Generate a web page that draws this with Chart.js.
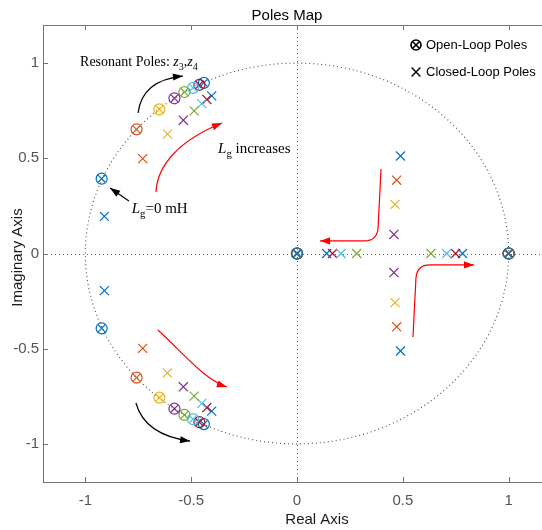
<!DOCTYPE html>
<html><head><meta charset="utf-8">
<script src="https://cdn.jsdelivr.net/npm/chart.js@4.4.0/dist/chart.umd.min.js"></script>
<style>
html,body{margin:0;padding:0;background:#fff;overflow:hidden;}
#wrap{width:542px;height:530px;overflow:hidden;position:relative;}
canvas{display:block;}
</style></head><body>
<div id="wrap"><canvas id="c" width="560" height="530"></canvas></div>
<script>
// ---- data ----
const seriesLabels = ['Lg = 0 mH','Lg #2','Lg #3','Lg #4','Lg #5','Lg #6','Lg #7','Lg #8'];
// open-loop resonant poles z3,z4 (upper half; lower half is conjugate)
const openRe = [-0.923, -0.758, -0.650, -0.579, -0.532, -0.491, -0.461, -0.440];
const openIm = [ 0.393,  0.652,  0.757,  0.815,  0.848,  0.870,  0.886,  0.896];
// open-loop real poles shared by all series
const openRealPoles = [0, 1];
// closed-loop resonant poles (upper half; lower half conjugate)
const closedResRe = [-0.910, -0.729, -0.612, -0.537, -0.486, -0.450, -0.426, -0.403];
const closedResIm = [ 0.195,  0.498,  0.627,  0.700,  0.749,  0.787,  0.809,  0.828];
// closed-loop low-frequency poles (pair A and pair B)
const closedARe = [0.489, 0.471, 0.463, 0.458, 0.282, 0.208, 0.168, 0.140];
const closedAIm = [0.512, 0.385, 0.258, 0.100, 0, 0, 0, 0];
const closedBRe = [0.489, 0.471, 0.463, 0.458, 0.633, 0.707, 0.749, 0.782];
const closedBIm = [-0.512, -0.385, -0.258, -0.100, 0, 0, 0, 0];
// axis ticks
const xTicks = [-1, -0.5, 0, 0.5, 1];
const xTickLabels = ['-1', '-0.5', '0', '0.5', '1'];
const yTicks = [-1, -0.5, 0, 0.5, 1];
const yTickLabels = ['-1', '-0.5', '0', '0.5', '1'];

// ---- styles ----
const seriesColors = ['#0072BD','#D95319','#EDB120','#7E2F8E','#77AC30','#4DBEEE','#A2142F','#0072BD'];
const AXIS = '#737373', TICKTXT = '#555555';

const datasets = [];
seriesLabels.forEach((lab, i) => {
  const col = seriesColors[i];
  const openPts = [{x: openRe[i], y: openIm[i]}, {x: openRe[i], y: -openIm[i]}]
    .concat(openRealPoles.map(r => ({x: r, y: 0})));
  const closedPts = [
    {x: closedResRe[i], y: closedResIm[i]}, {x: closedResRe[i], y: -closedResIm[i]},
    {x: closedARe[i], y: closedAIm[i]}, {x: closedBRe[i], y: closedBIm[i]}
  ];
  datasets.push({label: lab + ' open', data: openPts, pointStyle: 'circle', pointRadius: 5.5,
    borderColor: col, backgroundColor: 'rgba(0,0,0,0)', pointBorderWidth: 1.2, showLine: false});
  datasets.push({label: lab + ' open x', data: openPts, pointStyle: 'crossRot', pointRadius: 5,
    borderColor: col, backgroundColor: col, pointBorderWidth: 1.2, showLine: false});
  datasets.push({label: lab + ' closed', data: closedPts, pointStyle: 'crossRot', pointRadius: 6.4,
    borderColor: col, backgroundColor: col, pointBorderWidth: 1.2, showLine: false});
});

// annotation paths in data coordinates
const annotPaths = [
  {color: '#000', cmds: [['M',-0.751,0.738],['Q',-0.732,0.911,-0.539,0.932]]},
  {color: '#ff0000', cmds: [['M',-0.666,0.323],['C',-0.661,0.465,-0.553,0.596,-0.354,0.685]]},
  {color: '#ff0000', cmds: [['M',-0.657,-0.402],['C',-0.529,-0.533,-0.435,-0.664,-0.331,-0.701]]},
  {color: '#000', cmds: [['M',-0.761,-0.785],['C',-0.732,-0.901,-0.647,-0.964,-0.505,-0.985]]},
  {color: '#000', cmds: [['M',-0.794,0.276],['L',-0.883,0.344]]},
  {color: '#ff0000', cmds: [['M',0.397,0.444],['L',0.383,0.134],['Q',0.378,0.066,0.317,0.066],['L',0.109,0.066]]},
  {color: '#ff0000', cmds: [['M',0.548,-0.439],['L',0.562,-0.129],['Q',0.567,-0.060,0.628,-0.060],['L',0.836,-0.060]]}
];
const annotTexts = [
  {x: -1.025, y: 0.985, size: 14, parts: [{t:'Resonant Poles: '},{t:'z',it:1},{t:'3',sub:1},{t:','},{t:'z',it:1},{t:'4',sub:1}]},
  {x: -0.373, y: 0.528, size: 15, parts: [{t:'L',it:1},{t:'g',sub:1},{t:' increases'}]},
  {x: -0.781, y: 0.215, size: 15, parts: [{t:'L',it:1},{t:'g',sub:1},{t:'=0 mH'}]}
];

function richText(ctx, x, y, parts, size) {
  let cx = x;
  ctx.textAlign = 'left'; ctx.textBaseline = 'alphabetic'; ctx.fillStyle = '#000';
  parts.forEach(p => {
    const s = p.sub ? size * 0.72 : size;
    ctx.font = (p.it ? 'italic ' : '') + s + 'px "Liberation Serif"';
    ctx.fillText(p.t, cx, y + (p.sub ? size * 0.28 : 0));
    cx += ctx.measureText(p.t).width;
  });
}

const decor = {
  id: 'decor',
  beforeDatasetsDraw(chart) {
    const {ctx, chartArea: a, scales: {x, y}} = chart;
    ctx.save();
    ctx.beginPath(); ctx.rect(a.left, a.top, a.right - a.left, a.bottom - a.top); ctx.clip();
    ctx.strokeStyle = '#666666'; ctx.lineWidth = 1; ctx.setLineDash([1, 3]);
    const x0 = x.getPixelForValue(0), y0 = y.getPixelForValue(0);
    ctx.beginPath(); ctx.moveTo(a.left, Math.round(y0) + 0.5); ctx.lineTo(a.right, Math.round(y0) + 0.5); ctx.stroke();
    ctx.beginPath(); ctx.moveTo(Math.round(x0) + 0.5, a.top); ctx.lineTo(Math.round(x0) + 0.5, a.bottom); ctx.stroke();
    const rx = x.getPixelForValue(1) - x0, ry = y0 - y.getPixelForValue(1);
    ctx.strokeStyle = '#4a4a4a'; ctx.lineWidth = 1.1;
    ctx.beginPath(); ctx.ellipse(x0, y0, rx, ry, 0, 0, Math.PI * 2); ctx.stroke();
    ctx.restore();
  },
  afterDatasetsDraw(chart) {
    const {ctx, chartArea: a, scales: {x, y}} = chart;
    const P = (vx, vy) => [x.getPixelForValue(vx), y.getPixelForValue(vy)];
    ctx.save();
    // annotation arrows
    annotPaths.forEach(ap => {
      ctx.strokeStyle = ap.color; ctx.fillStyle = ap.color; ctx.lineWidth = 1.2; ctx.setLineDash([]);
      ctx.beginPath();
      let prev = null, last = null;
      ap.cmds.forEach(c => {
        if (c[0] === 'M') { const p = P(c[1], c[2]); ctx.moveTo(p[0], p[1]); last = p; }
        else if (c[0] === 'L') { const p = P(c[1], c[2]); ctx.lineTo(p[0], p[1]); prev = last; last = p; }
        else if (c[0] === 'Q') { const q = P(c[1], c[2]), p = P(c[3], c[4]); ctx.quadraticCurveTo(q[0], q[1], p[0], p[1]); prev = q; last = p; }
        else if (c[0] === 'C') { const q1 = P(c[1], c[2]), q2 = P(c[3], c[4]), p = P(c[5], c[6]); ctx.bezierCurveTo(q1[0], q1[1], q2[0], q2[1], p[0], p[1]); prev = q2; last = p; }
      });
      ctx.stroke();
      const ang = Math.atan2(last[1] - prev[1], last[0] - prev[0]);
      const L = 10, W = 3.6;
      ctx.beginPath();
      ctx.moveTo(last[0], last[1]);
      ctx.lineTo(last[0] - L * Math.cos(ang) + W * Math.sin(ang), last[1] - L * Math.sin(ang) - W * Math.cos(ang));
      ctx.lineTo(last[0] - L * Math.cos(ang) - W * Math.sin(ang), last[1] - L * Math.sin(ang) + W * Math.cos(ang));
      ctx.closePath(); ctx.fill();
    });
    // annotation text
    annotTexts.forEach(t => { const p = P(t.x, t.y); richText(ctx, p[0], p[1], t.parts, t.size); });
    // legend
    const lx = a.right - 135, ly1 = a.top + 20, ly2 = a.top + 47;
    ctx.strokeStyle = '#000'; ctx.lineWidth = 1.6;
    ctx.beginPath(); ctx.arc(lx, ly1, 5, 0, Math.PI * 2); ctx.stroke();
    ctx.beginPath();
    ctx.moveTo(lx - 3.3, ly1 - 3.3); ctx.lineTo(lx + 3.3, ly1 + 3.3);
    ctx.moveTo(lx + 3.3, ly1 - 3.3); ctx.lineTo(lx - 3.3, ly1 + 3.3); ctx.stroke();
    ctx.lineWidth = 1.4;
    ctx.beginPath();
    ctx.moveTo(lx - 4.4, ly2 - 4.4); ctx.lineTo(lx + 4.4, ly2 + 4.4);
    ctx.moveTo(lx + 4.4, ly2 - 4.4); ctx.lineTo(lx - 4.4, ly2 + 4.4); ctx.stroke();
    ctx.fillStyle = '#000'; ctx.font = '13px "Liberation Sans"'; ctx.textAlign = 'left'; ctx.textBaseline = 'middle';
    ctx.fillText('Open-Loop Poles', lx + 10, ly1);
    ctx.fillText('Closed-Loop Poles', lx + 10, ly2);
    // box and inward ticks
    ctx.strokeStyle = AXIS; ctx.lineWidth = 1;
    ctx.strokeRect(Math.round(a.left) + 0.5, Math.round(a.top) + 0.5, Math.round(a.right - a.left), Math.round(a.bottom - a.top));
    ctx.beginPath();
    xTicks.forEach(v => {
      const px = Math.round(x.getPixelForValue(v)) + 0.5;
      ctx.moveTo(px, a.bottom); ctx.lineTo(px, a.bottom - 5);
      ctx.moveTo(px, a.top); ctx.lineTo(px, a.top + 5);
    });
    yTicks.forEach(v => {
      const py = Math.round(y.getPixelForValue(v)) + 0.5;
      ctx.moveTo(a.left, py); ctx.lineTo(a.left + 5, py);
      ctx.moveTo(a.right, py); ctx.lineTo(a.right - 5, py);
    });
    ctx.stroke();
    // titles
    ctx.fillStyle = '#000'; ctx.textAlign = 'center'; ctx.textBaseline = 'alphabetic';
    ctx.font = '15px "Liberation Sans"';
    ctx.fillText('Poles Map', 287, 20);
    ctx.fillStyle = '#1a1a1a';
    ctx.font = '15px "Liberation Sans"';
    ctx.fillText('Real Axis', 317, 524);
    ctx.translate(22, (a.top + a.bottom) / 2 + 4);
    ctx.rotate(-Math.PI / 2);
    ctx.fillText('Imaginary Axis', 0, 0);
    ctx.restore();
  }
};

new Chart(document.getElementById('c'), {
  type: 'scatter',
  data: {datasets},
  options: {
    responsive: false, animation: false, events: [],
    layout: {padding: {top: 25, right: 9, left: 0, bottom: 0}},
    plugins: {legend: {display: false}, tooltip: {enabled: false}, title: {display: false}},
    scales: {
      x: {
        type: 'linear', position: 'bottom', min: -1.2, max: 1.2,
        afterBuildTicks: s => { s.ticks = xTicks.map(v => ({value: v})); },
        afterFit: s => { s.height = 48; },
        grid: {display: false, drawTicks: false}, border: {display: false},
        ticks: {padding: 10, color: TICKTXT, font: {family: 'Liberation Sans', size: 15}, maxRotation: 0, autoSkip: false,
          callback: (v, i) => xTickLabels[i]}
      },
      y: {
        type: 'linear', position: 'left', min: -1.2, max: 1.2,
        afterBuildTicks: s => { s.ticks = yTicks.map(v => ({value: v})); },
        afterFit: s => { s.width = 43; },
        grid: {display: false, drawTicks: false}, border: {display: false},
        ticks: {padding: 4, color: TICKTXT, font: {family: 'Liberation Sans', size: 15}, autoSkip: false,
          callback: (v, i) => yTickLabels[i]}
      }
    }
  },
  plugins: [decor]
});
</script></body></html>
